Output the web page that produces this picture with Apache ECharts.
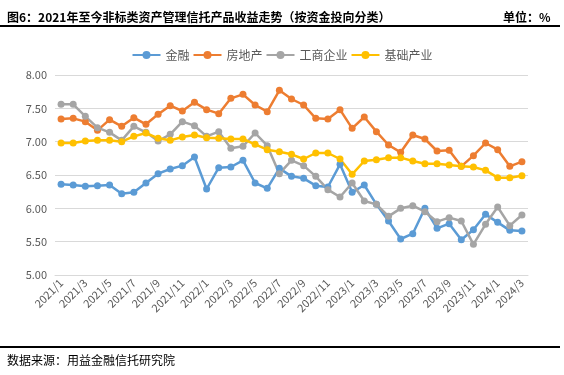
<!DOCTYPE html>
<html>
<head>
<meta charset="utf-8">
<script src="https://cdn.jsdelivr.net/npm/echarts@6/dist/echarts.min.js"></script>
<style>
  html, body { margin: 0; padding: 0; background: #fff; }
  #chart { width: 564px; height: 375px; }
</style>
</head>
<body>
<div id="chart"></div>
<script>
var months = [
  '2021/1', '2021/2', '2021/3', '2021/4', '2021/5', '2021/6', '2021/7', '2021/8', '2021/9', '2021/10', '2021/11', '2021/12',
  '2022/1', '2022/2', '2022/3', '2022/4', '2022/5', '2022/6', '2022/7', '2022/8', '2022/9', '2022/10', '2022/11', '2022/12',
  '2023/1', '2023/2', '2023/3', '2023/4', '2023/5', '2023/6', '2023/7', '2023/8', '2023/9', '2023/10', '2023/11', '2023/12',
  '2024/1', '2024/2', '2024/3'
];

// 金融
var finance = [6.36, 6.35, 6.33, 6.34, 6.35, 6.22, 6.24, 6.38, 6.52, 6.59, 6.64, 6.77,
  6.29, 6.61, 6.62, 6.72, 6.38, 6.30, 6.60, 6.48, 6.45, 6.34, 6.32, 6.66,
  6.24, 6.35, 6.06, 5.81, 5.54, 5.62, 6.00, 5.70, 5.77, 5.53, 5.68, 5.91,
  5.79, 5.67, 5.66];
// 房地产
var realEstate = [7.34, 7.35, 7.30, 7.17, 7.33, 7.23, 7.36, 7.26, 7.41, 7.54, 7.46, 7.59,
  7.48, 7.42, 7.65, 7.71, 7.55, 7.45, 7.77, 7.64, 7.55, 7.35, 7.34, 7.48,
  7.20, 7.37, 7.15, 6.95, 6.84, 7.10, 7.04, 6.86, 6.87, 6.63, 6.79, 6.98,
  6.88, 6.63, 6.70];
// 工商企业
var industry = [7.56, 7.56, 7.38, 7.21, 7.14, 7.02, 7.23, 7.14, 7.01, 7.11, 7.30, 7.24,
  7.08, 7.15, 6.90, 6.93, 7.13, 6.94, 6.52, 6.72, 6.64, 6.48, 6.28, 6.17,
  6.38, 6.11, 6.06, 5.88, 6.00, 6.04, 5.95, 5.80, 5.86, 5.81, 5.46, 5.76,
  6.02, 5.74, 5.90];
// 基础产业
var infra = [6.98, 6.98, 7.01, 7.02, 7.02, 7.00, 7.08, 7.13, 7.05, 7.02, 7.07, 7.10,
  7.06, 7.05, 7.04, 7.04, 6.96, 6.88, 6.85, 6.81, 6.74, 6.83, 6.83, 6.74,
  6.51, 6.71, 6.73, 6.76, 6.76, 6.71, 6.67, 6.67, 6.65, 6.63, 6.62, 6.57,
  6.46, 6.46, 6.49];

var chart = echarts.init(document.getElementById('chart'));

function lineSeries(name, color, data) {
  return {
    name: name,
    type: 'line',
    data: data,
    symbol: 'circle',
    symbolSize: 7,
    lineStyle: { width: 2.5, color: color },
    itemStyle: { color: color },
    emphasis: { disabled: true },
    animation: false
  };
}

var option = {
  animation: false,
  textStyle: { fontFamily: '"Noto Sans CJK SC", sans-serif' },
  title: [
    {
      text: '图6：2021年至今非标类资产管理信托产品收益走势（按资金投向分类）',
      left: 2, top: 6,
      textStyle: { fontSize: 12, fontWeight: 'bold', color: '#000' }
    },
    {
      text: '单位：%',
      left: 498, top: 6,
      textStyle: { fontSize: 12, fontWeight: 'bold', color: '#000' }
    },
    {
      text: '数据来源：用益金融信托研究院',
      left: 2, top: 349,
      textStyle: { fontSize: 12, fontWeight: 'normal', color: '#000' }
    }
  ],
  graphic: [
    { type: 'rect', shape: { x: 0, y: 25, width: 560, height: 2 }, style: { fill: '#000' } },
    { type: 'rect', shape: { x: 0, y: 346, width: 560, height: 2 }, style: { fill: '#000' } }
  ],
  legend: {
    top: 44,
    left: 'center',
    itemWidth: 28,
    itemHeight: 10,
    itemGap: 3,
    textStyle: { fontSize: 12, color: '#595959' },
    data: ['金融', '房地产', '工商企业', '基础产业']
  },
  grid: { left: 55, right: 36, top: 75, bottom: 100 },
  xAxis: {
    type: 'category',
    data: months,
    boundaryGap: true,
    axisLine: { lineStyle: { color: '#d9d9d9' } },
    axisTick: { interval: 1, length: 5, lineStyle: { color: '#d9d9d9' } },
    axisLabel: { interval: 1, rotate: 45, fontSize: 11, color: '#595959', margin: 6 }
  },
  yAxis: {
    type: 'value',
    min: 5,
    max: 8,
    interval: 0.5,
    axisLine: { show: false },
    axisTick: { show: false },
    axisLabel: {
      fontSize: 11, color: '#595959',
      formatter: function (v) { return v.toFixed(2); }
    },
    splitLine: { lineStyle: { color: '#d9d9d9', width: 1 } }
  },
  series: [
    lineSeries('金融', '#5B9BD5', finance),
    lineSeries('房地产', '#ED7D31', realEstate),
    lineSeries('工商企业', '#A5A5A5', industry),
    lineSeries('基础产业', '#FFC000', infra)
  ]
};

chart.setOption(option);
</script>
</body>
</html>
